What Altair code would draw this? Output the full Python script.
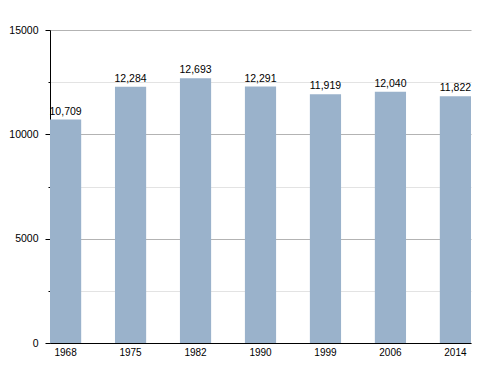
import altair as alt
import pandas as pd

years = ["1968", "1975", "1982", "1990", "1999", "2006", "2014"]
population = [10709, 12284, 12693, 12291, 11919, 12040, 11822]
labels = ["10,709", "12,284", "12,693", "12,291", "11,919", "12,040", "11,822"]
y_ticks = [0, 2500, 5000, 7500, 10000, 12500, 15000]

df = pd.DataFrame({"year": years, "pop": population, "label": labels})

FONT = "Liberation Sans"

x = alt.X("year:N", title=None, sort=None,
          scale=alt.Scale(paddingInner=0.52, paddingOuter=0),
          axis=alt.Axis(labelAngle=0, ticks=False, domainColor="#000000",
                        labelFont=FONT, labelFontSize=10, labelColor="#000000",
                        labelPadding=4, grid=False))
y = alt.Y("pop:Q", title=None,
          scale=alt.Scale(domain=[0, 15000], nice=False),
          axis=alt.Axis(values=y_ticks,
                        labelExpr="datum.value % 5000 === 0 ? datum.value : ''",
                        domainColor="#000000", tickColor="#000000",
                        tickSize=alt.condition("datum.value % 5000 === 0", alt.value(5), alt.value(2)),
                        labelPadding=7, labelFont=FONT, labelFontSize=10.5,
                        labelColor="#000000",
                        gridColor=alt.condition("datum.value % 5000 === 0",
                                                alt.value("#b3b3b3"), alt.value("#e3e3e3")),
                        gridWidth=1))

bars = alt.Chart(df).mark_bar(color="#9ab2cb").encode(x=x, y=y)
text = alt.Chart(df).mark_text(baseline="alphabetic", dy=-5, font=FONT, fontSize=10.5,
                               color="#000000").encode(
    x=alt.X("year:N", sort=None), y="pop:Q", text="label:N")

chart = alt.layer(bars, text).properties(
    width=421, height=313,
    background="#ffffff",
    autosize=alt.AutoSizeParams(type="none"),
    padding={"left": 50, "top": 30, "right": 29, "bottom": 30},
).configure_view(stroke=None)

chart.save("out.html", embed_options={"renderer": "svg", "actions": False})
